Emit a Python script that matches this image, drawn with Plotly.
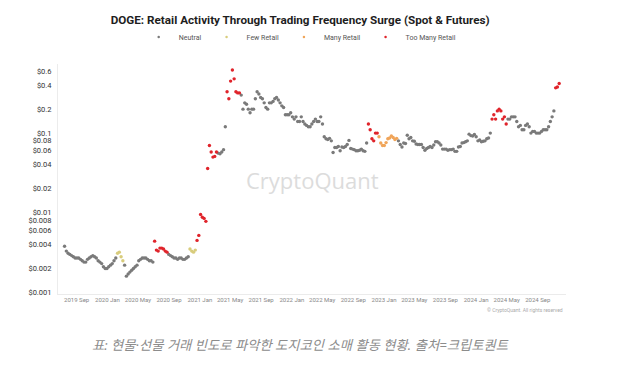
import pandas as pd
import plotly.graph_objects as go

# ---- weekly DOGE price (USD) ----
start_2019 = "2019-07-15"
price_2019 = [0.0038, 0.0033, 0.0031, 0.0030, 0.0029, 0.0028, 0.0027, 0.0027, 0.0027, 0.0026,
              0.0025, 0.0024, 0.0024, 0.0026, 0.0027, 0.0028, 0.0029, 0.0028, 0.0027, 0.0025,
              0.0024, 0.0023, 0.0021, 0.0020, 0.0020]
start_2020 = "2020-01-06"
price_2020 = [0.0021, 0.0022, 0.0023, 0.0025,
              0.0027, 0.0031, 0.0032, 0.0028,
              0.0025, 0.0022, 0.0016, 0.0017, 0.0018,
              0.0019, 0.0020, 0.0021, 0.0022,
              0.0025, 0.0026, 0.0027, 0.0027,
              0.0027, 0.0026, 0.0025, 0.0025, 0.0024,
              0.0044, 0.0034, 0.0033, 0.0036,
              0.0036, 0.0035, 0.0033, 0.0032, 0.0030,
              0.0029, 0.0028, 0.0027, 0.0027,
              0.0026, 0.0027, 0.0027, 0.0026,
              0.0026, 0.0027, 0.0028, 0.0035, 0.0033,
              0.0032, 0.0034, 0.0045, 0.0052]
start_2021 = "2021-01-04"
price_2021 = [0.0095, 0.0088, 0.0085, 0.0078,
              0.036, 0.070, 0.058, 0.050,
              0.051, 0.058, 0.056, 0.055, 0.058,
              0.062, 0.12, 0.33, 0.27,
              0.45, 0.62, 0.48, 0.33, 0.32,
              0.32, 0.30, 0.20, 0.24,
              0.23, 0.20, 0.18, 0.20,
              0.20, 0.27, 0.33, 0.31, 0.28,
              0.27, 0.24, 0.21, 0.20,
              0.24, 0.24, 0.25, 0.27,
              0.28, 0.26, 0.24, 0.22, 0.21,
              0.17, 0.17, 0.17, 0.18]
start_2022 = "2022-01-03"
price_2022 = [0.16, 0.15, 0.16, 0.14, 0.14,
              0.16, 0.14, 0.13, 0.125,
              0.12, 0.12, 0.13, 0.14,
              0.15, 0.14, 0.14, 0.16,
              0.13, 0.09, 0.085, 0.083, 0.086,
              0.080, 0.057, 0.066, 0.066,
              0.068, 0.060, 0.067, 0.066,
              0.068, 0.072, 0.081, 0.064, 0.063,
              0.062, 0.060, 0.060, 0.061,
              0.063, 0.060, 0.059, 0.075, 0.13,
              0.11, 0.085, 0.080, 0.10,
              0.10, 0.090, 0.075, 0.070]
start_2023 = "2023-01-02"
price_2023 = [0.070, 0.076, 0.085, 0.087, 0.092,
              0.088, 0.083, 0.086, 0.080,
              0.072, 0.067, 0.075, 0.074,
              0.094, 0.085, 0.088, 0.080,
              0.079, 0.073, 0.072, 0.072, 0.072,
              0.066, 0.061, 0.064, 0.066,
              0.068, 0.066, 0.071, 0.078, 0.078,
              0.075, 0.071, 0.063, 0.063,
              0.063, 0.061, 0.062, 0.062,
              0.063, 0.059, 0.059, 0.067, 0.068,
              0.075, 0.076, 0.078, 0.080,
              0.097, 0.093, 0.092, 0.096]
start_2024 = "2024-01-01"
price_2024 = [0.090, 0.080, 0.082, 0.078, 0.079,
              0.080, 0.085, 0.087, 0.100,
              0.15, 0.17, 0.15, 0.19,
              0.20, 0.19, 0.15, 0.16, 0.13,
              0.15, 0.15, 0.16, 0.16,
              0.16, 0.14, 0.12, 0.125,
              0.11, 0.11, 0.125, 0.13, 0.12,
              0.10, 0.105, 0.105, 0.10,
              0.10, 0.10, 0.105, 0.11, 0.11,
              0.11, 0.12, 0.14, 0.16,
              0.19, 0.37, 0.38, 0.42]

# ---- retail-activity regimes (date ranges) ----
categories = ["Neutral", "Few Retail", "Many Retail", "Too Many Retail"]
few_retail_periods = [("2020-02-10", "2020-03-02"), ("2020-11-23", "2020-12-14")]
many_retail_periods = [("2022-12-12", "2023-02-20")]
too_many_retail_periods = [("2020-07-06", "2020-08-24"), ("2020-12-21", "2021-03-08"),
                           ("2021-04-19", "2021-06-07"), ("2022-10-31", "2022-12-05"),
                           ("2024-03-04", "2024-04-29"), ("2024-11-11", "2024-11-25")]

# ---- tick labels ----
y_tick_values = [0.001, 0.002, 0.004, 0.006, 0.008, 0.01, 0.02, 0.04, 0.06, 0.08, 0.1, 0.2, 0.4, 0.6]
y_tick_labels = ["$0.001", "$0.002", "$0.004", "$0.006", "$0.008", "$0.01", "$0.02", "$0.04",
                 "$0.06", "$0.08", "$0.1", "$0.2", "$0.4", "$0.6"]

colors = {"Neutral": "#7a7a7a", "Few Retail": "#d8cc7c",
          "Many Retail": "#f0a55a", "Too Many Retail": "#e0242b"}

segments = [(start_2019, price_2019), (start_2020, price_2020), (start_2021, price_2021),
            (start_2022, price_2022), (start_2023, price_2023), (start_2024, price_2024)]
dates, prices = [], []
for s, vals in segments:
    dates.extend(pd.date_range(s, periods=len(vals), freq="7D"))
    prices.extend(vals)
df = pd.DataFrame({"date": dates, "price": prices})
df["cat"] = "Neutral"
for cat, periods in [("Few Retail", few_retail_periods), ("Many Retail", many_retail_periods),
                     ("Too Many Retail", too_many_retail_periods)]:
    for a, b in periods:
        df.loc[(df.date >= a) & (df.date <= b), "cat"] = cat

fig = go.Figure()
for cat in categories:
    sub = df[df.cat == cat]
    fig.add_trace(go.Scatter(x=sub.date, y=sub.price, mode="markers", name=cat,
                             legendgroup=cat, showlegend=False,
                             marker=dict(size=3.4, color=colors[cat], line=dict(width=0))))
    # small legend swatch (legend-only entry)
    fig.add_trace(go.Scatter(x=[None], y=[None], mode="markers", name=cat, legendgroup=cat,
                             marker=dict(size=2.5, color=colors[cat])))

fig.update_layout(
    width=636, height=366,
    margin=dict(l=58, r=70, t=46, b=72),
    paper_bgcolor="white", plot_bgcolor="white",
    font=dict(family="Roboto", color="#444"),
    title=dict(text="DOGE: Retail Activity Through Trading Frequency Surge (Spot & Futures)",
               x=0.472, xanchor="center", xref="container",
               y=1 - 20 / 366, yanchor="middle", yref="container",
               font=dict(family="Roboto", size=11.7, color="#1e1e1e", weight="bold")),
    legend=dict(orientation="h", xref="container", x=0.472, xanchor="center",
                yref="container", y=1 - 37 / 366, yanchor="middle",
                font=dict(size=7, color="#555"), itemwidth=30, bgcolor="rgba(0,0,0,0)"),
    showlegend=True,
)
fig.update_xaxes(type="date", range=["2019-06-19", "2024-12-22"], tick0="2019-09-01", dtick="M4",
                 tickformat="%Y %b", tickfont=dict(size=6, color="#888"),
                 showgrid=False, zeroline=False, showline=True, linecolor="#ebebeb", ticks="")
fig.update_yaxes(type="log", range=[-3.02, -0.126], tickmode="array",
                 tickvals=y_tick_values, ticktext=y_tick_labels,
                 tickfont=dict(size=7.5, color="#333"), ticklabelstandoff=4,
                 showgrid=False, zeroline=False, showline=True, linecolor="#ececec", ticks="")

fig.add_annotation(text="CryptoQuant", xref="paper", yref="paper", x=0.5, y=0.496,
                   showarrow=False, font=dict(family="Open Sans", size=22, color="#dcdcdc"))
fig.add_annotation(text="© CryptoQuant. All rights reserved", xref="paper", yref="paper",
                   x=0.998, y=-0.0685, xanchor="right", yanchor="middle", showarrow=False,
                   font=dict(size=5, color="#aaa"))
fig.add_annotation(text="표: 현물·선물 거래 빈도로 파악한 도지코인 소매 활동 현황. 출처=크립토퀀트",
                   xref="paper", yref="paper", x=0.063, y=-0.222, xanchor="left", yanchor="middle",
                   showarrow=False,
                   font=dict(family="Noto Sans, Noto Sans CJK KR", size=13.3, color="#8c8c8c",
                             style="italic"))

fig.write_html("out.html", config={"displayModeBar": False},
               post_script="document.body.style.margin='0';document.body.style.overflow='hidden';")
